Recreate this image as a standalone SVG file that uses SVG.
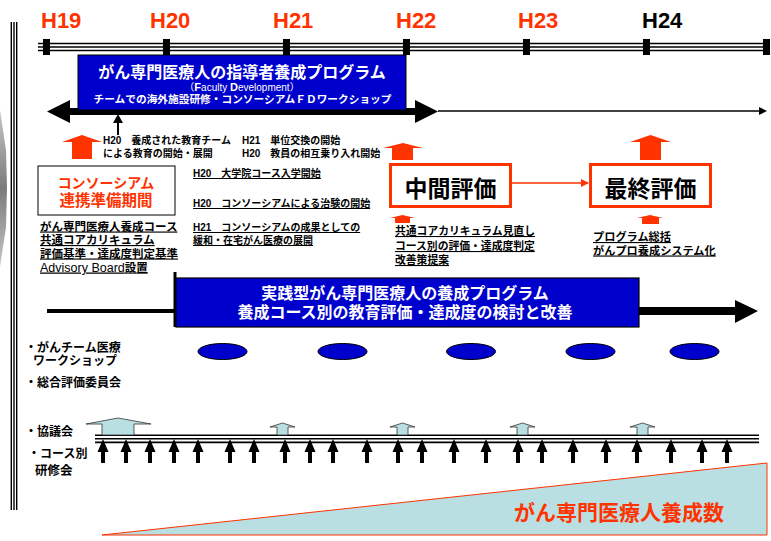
<svg xmlns="http://www.w3.org/2000/svg" width="771" height="541" viewBox="0 0 771 541">
<style>
text{font-family:"Liberation Sans","Noto Sans CJK JP",sans-serif;font-weight:bold}
.yr{font-size:22px;fill:#FF3300}
.t10{font-size:10px;fill:#000}
.u{text-decoration:underline}
.w{fill:#fff}
.tl{stroke:#000;stroke-width:1.4;fill:none}
.tick{fill:#000}
.org{fill:#FF3300}
.lb{fill:#B9DFE3;stroke:#333;stroke-width:0.8}
.ell{fill:#0000CC;stroke:#000;stroke-width:1}
</style>
<defs>
<linearGradient id="gg" x1="0" y1="0" x2="0" y2="1">
<stop offset="0" stop-color="#c8c8c8"/><stop offset="0.5" stop-color="#7a7a7a"/><stop offset="1" stop-color="#c8c8c8"/>
</linearGradient>
<path id="ba" d="M-5.5,452 L0,439 L5.5,452 L2,452 L2,463 L-2,463 L-2,452 Z" fill="#000"/>
<path id="sla" d="M-12.5,427 L0,423 L12.5,427 L5.5,427 L5.5,435 L-5.5,435 L-5.5,427 Z" class="lb"/>
<marker id="oa" markerWidth="8" markerHeight="8" refX="7" refY="4" orient="auto" markerUnits="userSpaceOnUse"><path d="M0,0 L8,4 L0,8 Z" fill="#FF3300"/></marker>
</defs>

<!-- frame -->
<polygon points="0,110 6,150 7,188 6,227 0,267" fill="url(#gg)"/>
<g class="tl">
<line x1="11.3" y1="22" x2="11.3" y2="510"/><line x1="14" y1="22" x2="14" y2="510"/><line x1="16.7" y1="22" x2="16.7" y2="510"/>
</g>

<!-- timeline -->
<g id="timeline">
<g class="tl"><line x1="38" y1="43.5" x2="770" y2="43.5"/><line x1="38" y1="47" x2="770" y2="47"/><line x1="38" y1="50.5" x2="770" y2="50.5"/></g>
<rect class="tick" x="43" y="39" width="7" height="16"/>
<rect class="tick" x="163" y="39" width="7" height="16"/>
<rect class="tick" x="283" y="39" width="7" height="16"/>
<rect class="tick" x="403" y="39" width="7" height="16"/>
<rect class="tick" x="523" y="39" width="7" height="16"/>
<rect class="tick" x="643" y="39" width="7" height="16"/>
<rect class="tick" x="763" y="39" width="7" height="16"/>
<text class="yr" x="41" y="28">H19</text>
<text class="yr" x="150" y="28">H20</text>
<text class="yr" x="273" y="28">H21</text>
<text class="yr" x="396" y="28">H22</text>
<text class="yr" x="518" y="28">H23</text>
<text class="yr" x="642" y="28" fill="#000" style="fill:#000">H24</text>
</g>

<!-- connectors -->
<g id="connectors">
<rect x="70" y="108" width="345" height="7" fill="#000"/>
<polygon points="70,100 47,111.5 70,123" fill="#000"/>
<polygon points="415,100 438,111.5 415,123" fill="#000"/>
<line x1="438" y1="111" x2="760" y2="111" stroke="#000" stroke-width="1.5"/>
<polygon points="759,107 767,111 759,115" fill="#000"/>
<line x1="118" y1="120" x2="118" y2="135" stroke="#000" stroke-width="2"/>
<polygon points="113,123 118,114 123,123" fill="#000"/>
<line x1="512" y1="183" x2="588" y2="183" stroke="#FF3300" stroke-width="1.5" marker-end="url(#oa)"/>
<line x1="47" y1="311" x2="175" y2="311" stroke="#000" stroke-width="4"/>
<line x1="175" y1="272" x2="175" y2="327" stroke="#000" stroke-width="3"/>
<rect x="639" y="307" width="97" height="8" fill="#000"/>
<polygon points="735,300 758,311 735,323" fill="#000"/>
<polygon class="org" points="62,142 82,135 102,142 92,142 92,159 72,159 72,142"/>
<polygon class="org" points="383,148 403,143 423,148 413,148 413,160 392,160 392,148"/>
<polygon class="org" points="630,142 650.5,135 671,142 661,142 661,160 640,160 640,142"/>
<polygon class="org" points="390,218 402.5,215 415,218 410,218 410,223 395,223 395,218"/>
<polygon class="org" points="637,218 650,215 663,218 659,218 659,224 642,224 642,218"/>
</g>

<!-- FD box -->
<g id="fd-box">
<rect x="78" y="55" width="328" height="55" fill="#0000CC" stroke="#000" stroke-width="1"/>
<text class="w" x="242" y="78" font-size="16" text-anchor="middle">がん専門医療人の指導者養成プログラム</text>
<text class="w" x="242" y="91" font-size="10" text-anchor="middle" font-weight="normal" style="font-weight:normal">（<tspan font-size="11" style="font-weight:bold">F</tspan>aculty <tspan font-size="11" style="font-weight:bold">D</tspan>evelopment）</text>
<text class="w" x="242.5" y="103" font-size="10.7" text-anchor="middle">チームでの海外施設研修・コンソーシアムＦＤワークショップ</text>
</g>

<g id="top-notes">
<text class="t10" x="103" y="144">H20　養成された教育チーム</text>
<text class="t10" x="103" y="157">による教育の開始・展開</text>
<text class="t10" x="242" y="144">H21　単位交換の開始</text>
<text class="t10" x="242" y="157">H20　教員の相互乗り入れ開始</text>
</g>

<g id="consortium">
<rect x="38" y="166" width="137" height="49" fill="#fff" stroke="#000" stroke-width="1"/>
<text x="106" y="187.5" font-size="14" fill="#FF3300" text-anchor="middle">コンソーシアム</text>
<text x="106" y="206" font-size="15.5" fill="#FF3300" text-anchor="middle">連携準備期間</text>
</g>

<g id="prep-list" font-size="11.5">
<text class="u" x="40" y="230.5" font-size="11.5">がん専門医療人養成コース</text>
<text class="u" x="40" y="244" font-size="11.5">共通コアカリキュラム</text>
<text class="u" x="40" y="257.5" font-size="11.5">評価基準・達成度判定基準</text>
<text class="u" x="40" y="271.5" font-size="12.5"><tspan style="font-weight:normal">Advisory Board</tspan><tspan font-size="11.5">設置</tspan></text>
</g>

<g id="mid-notes">
<text class="t10 u" x="193" y="177">H20　大学院コース入学開始</text>
<text class="t10 u" x="193" y="207">H20　コンソーシアムによる治験の開始</text>
<text class="t10 u" x="193" y="231">H21　コンソーシアムの成果としての</text>
<text class="t10 u" x="193" y="244">緩和・在宅がん医療の展開</text>
</g>

<g id="mid-eval">
<rect x="390.5" y="164.5" width="120" height="42" fill="#fff" stroke="#FF3300" stroke-width="3"/>
<text x="450.5" y="197" font-size="23" text-anchor="middle">中間評価</text>
<text class="u" x="395" y="235" font-size="10.8">共通コアカリキュラム見直し</text>
<text class="u" x="395" y="250" font-size="10.8">コース別の評価・達成度判定</text>
<text class="u" x="395" y="264" font-size="10.8">改善策提案</text>
</g>

<g id="final-eval">
<rect x="590.5" y="164.5" width="120" height="42" fill="#fff" stroke="#FF3300" stroke-width="3"/>
<text x="650.5" y="197" font-size="23" text-anchor="middle">最終評価</text>
<text class="u" x="593" y="241" font-size="11.2">プログラム総括</text>
<text class="u" x="593" y="254.5" font-size="11.2">がんプロ養成システム化</text>
</g>

<g id="practice-box">
<rect x="176" y="278" width="463" height="49" fill="#0000CC" stroke="#000" stroke-width="1.2"/>
<text class="w" x="405" y="299" font-size="16" text-anchor="middle">実践型がん専門医療人の養成プログラム</text>
<text class="w" x="405" y="318" font-size="16" text-anchor="middle">養成コース別の教育評価・達成度の検討と改善</text>
</g>

<g id="labels" font-size="12">
<text x="25" y="351.5" font-size="12">・がんチーム医療</text>
<text x="33" y="364.5" font-size="12">ワークショップ</text>
<text x="25" y="386.5" font-size="12">・総合評価委員会</text>
<text x="25" y="435.5" font-size="12">・協議会</text>
<text x="28" y="457.5" font-size="12">・コース別</text>
<text x="35" y="474.5" font-size="12.5">研修会</text>
</g>

<g id="workshops">
<ellipse class="ell" cx="222.5" cy="351.5" rx="24.5" ry="8"/>
<ellipse class="ell" cx="342.5" cy="351.5" rx="24.5" ry="8"/>
<ellipse class="ell" cx="471" cy="351.5" rx="24.5" ry="8"/>
<ellipse class="ell" cx="590.5" cy="351.5" rx="24.5" ry="8"/>
<ellipse class="ell" cx="694.5" cy="351.5" rx="24.5" ry="8"/>
</g>

<g id="council-line">
<g class="tl"><line x1="95" y1="435.3" x2="759" y2="435.3"/><line x1="95" y1="438.8" x2="759" y2="438.8"/><line x1="95" y1="442.3" x2="759" y2="442.3" stroke-width="1.8"/></g>
<path class="lb" d="M86,424 L118,418 L151,424 L134,424 L134,435 L102,435 L102,424 Z"/>
<use href="#sla" x="282.5"/>
<use href="#sla" x="402.5"/>
<use href="#sla" x="522.5"/>
<use href="#sla" x="642.5"/>
<use href="#ba" x="103"/><use href="#ba" x="126"/><use href="#ba" x="150"/><use href="#ba" x="174"/>
<use href="#ba" x="198"/><use href="#ba" x="230"/><use href="#ba" x="254"/><use href="#ba" x="285"/>
<use href="#ba" x="310"/><use href="#ba" x="333"/><use href="#ba" x="367"/><use href="#ba" x="398"/>
<use href="#ba" x="422"/><use href="#ba" x="454"/><use href="#ba" x="486"/><use href="#ba" x="518"/>
<use href="#ba" x="542"/><use href="#ba" x="573"/><use href="#ba" x="606"/><use href="#ba" x="637"/>
<use href="#ba" x="671"/><use href="#ba" x="702"/><use href="#ba" x="727"/>
</g>

<g id="growth">
<polygon points="102,535 767,463 767,535" fill="#B9DFE3" stroke="#FF3300" stroke-width="1"/>
<text x="619" y="520" font-size="21" fill="#FF3300" text-anchor="middle">がん専門医療人養成数</text>
</g>
</svg>
